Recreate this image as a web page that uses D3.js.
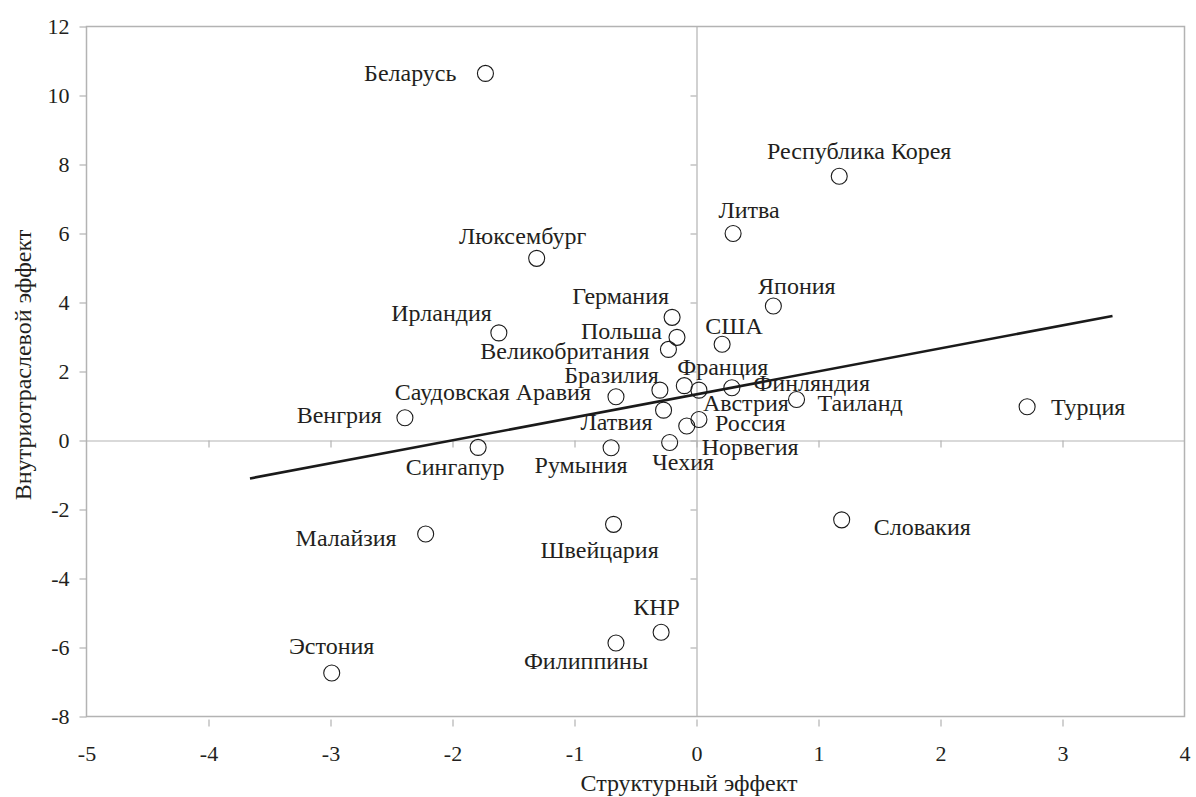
<!DOCTYPE html>
<html>
<head>
<meta charset="utf-8">
<script src="https://cdn.jsdelivr.net/npm/d3@7"></script>
<style>
  html, body { margin: 0; padding: 0; background: #fff; }
  svg { display: block; }
  text { font-family: "Liberation Serif", "Times New Roman", serif; fill: #231f20; }
</style>
</head>
<body>
<svg id="chart" width="1196" height="797"></svg>
<script>
// ---- data ----
const countries = ["Беларусь","Республика Корея","Литва","Люксембург","Япония","Германия","Ирландия","Польша","США","Великобритания","Франция","Бразилия","Финляндия","Саудовская Аравия","Таиланд","Турция","Австрия","Венгрия","Латвия","Россия","Норвегия","Сингапур","Румыния","Чехия","Словакия","Малайзия","Швейцария","КНР","Эстония","Филиппины"];
const structuralEffect = [-1.73, 1.17, 0.30, -1.31, 0.63, -0.20, -1.62, -0.16, 0.21, -0.23, -0.10, -0.30, 0.29, -0.66, 0.82, 2.71, 0.02, -2.39, -0.27, 0.02, -0.08, -1.79, -0.70, -0.22, 1.19, -2.22, -0.68, -0.29, -2.99, -0.66];
const intraEffect      = [10.64, 7.66, 6.00, 5.28, 3.90, 3.57, 3.12, 2.99, 2.79, 2.64, 1.59, 1.46, 1.53, 1.27, 1.19, 0.98, 1.46, 0.66, 0.88, 0.61, 0.42, -0.20, -0.21, -0.06, -2.30, -2.71, -2.43, -5.56, -6.74, -5.87];
const trendX = [-3.66, 3.41];
const trendY = [-1.10, 3.61];
const xTicks = [-5, -4, -3, -2, -1, 0, 1, 2, 3, 4];
const yTicks = [-8, -6, -4, -2, 0, 2, 4, 6, 8, 10, 12];
const xTitle = "Структурный эффект";
const yTitle = "Внутриотраслевой эффект";

// ---- label placement (layout only): [anchor, dx, dy] in px from the point ----
const labelPlacement = [
  ["end", -29, 0], ["middle", 20, -25], ["middle", 16, -24], ["middle", -14, -22],
  ["middle", 23.5, -20], ["end", -3, -21], ["end", -7, -20], ["end", -15, -6],
  ["middle", 12, -18], ["end", -19, 2], ["middle", 38.5, -18.5], ["end", -1, -15],
  ["start", 21.5, -4.5], ["end", -25, -5], ["start", 21, 3.5], ["start", 24, 0],
  ["start", 4, 13], ["end", -23, -3], ["end", -11, 12], ["start", 16, 4],
  ["start", 15, 21], ["middle", -23, 20], ["middle", -30, 17], ["middle", 13.5, 19],
  ["start", 32, 7], ["end", -29, 4], ["middle", -14, 26], ["middle", -4.5, -25.5],
  ["middle", 0, -27], ["middle", -30, 18]
];

const svg = d3.select("#chart");
const x = d3.scaleLinear().domain([xTicks[0], xTicks[xTicks.length - 1]]).range([86.5, 1184.5]);
const y = d3.scaleLinear().domain([yTicks[0], yTicks[yTicks.length - 1]]).range([716.5, 26.5]);
const gridCol = "#b3b3b3";
const fontFam = "'Liberation Serif', 'Times New Roman', serif";
const tickFs = 22;
const fs = 24;
const fmt = d => String(d); // hyphen-minus like the reference

// zero lines with ticks
const gx0 = svg.append("g").attr("transform", `translate(0,${y(0)})`)
  .call(d3.axisBottom(x).tickValues(xTicks.slice(1, -1)).tickSize(7).tickSizeOuter(0).tickFormat(""));
const gy0 = svg.append("g").attr("transform", `translate(${x(0)},0)`)
  .call(d3.axisLeft(y).tickValues(yTicks.slice(1, -1)).tickSize(6).tickSizeOuter(0).tickFormat(""));
[gx0, gy0].forEach(g => { g.selectAll("path,line").attr("stroke", gridCol).attr("stroke-width", 1.2); });

// frame
svg.append("rect")
  .attr("x", x(xTicks[0])).attr("y", y(yTicks[yTicks.length - 1]))
  .attr("width", x(xTicks[xTicks.length - 1]) - x(xTicks[0]))
  .attr("height", y(yTicks[0]) - y(yTicks[yTicks.length - 1]))
  .attr("fill", "none").attr("stroke", gridCol).attr("stroke-width", 1.5);

// y axis
const gy = svg.append("g").attr("transform", `translate(${x(xTicks[0])},0)`)
  .call(d3.axisLeft(y).tickValues(yTicks).tickFormat(fmt).tickSize(7).tickPadding(10).tickSizeOuter(0));
gy.attr("font-family", fontFam);
gy.select(".domain").remove();
gy.selectAll("line").attr("stroke", gridCol).attr("stroke-width", 1.2);
gy.selectAll("text").attr("font-size", tickFs).attr("font-family", fontFam).attr("fill", "#231f20");

// x axis (ticks below frame)
const gx = svg.append("g").attr("transform", `translate(0,${y(yTicks[0]) + 3})`)
  .call(d3.axisBottom(x).tickValues(xTicks).tickFormat(fmt).tickSize(7).tickPadding(19).tickSizeOuter(0));
gx.attr("font-family", fontFam);
gx.select(".domain").remove();
gx.selectAll("line").attr("stroke", gridCol).attr("stroke-width", 1.2);
gx.selectAll(".tick").filter(d => d === xTicks[0] || d === xTicks[xTicks.length - 1]).select("line").remove();
gx.selectAll("text").attr("font-size", tickFs).attr("font-family", fontFam).attr("fill", "#231f20");

// axis titles
svg.append("text").attr("x", 689).attr("y", 783).attr("text-anchor", "middle")
  .attr("dominant-baseline", "central").attr("font-family", fontFam).attr("font-size", fs).text(xTitle);
svg.append("text").attr("transform", "translate(23,365) rotate(-90)").attr("text-anchor", "middle")
  .attr("dominant-baseline", "central").attr("font-family", fontFam).attr("font-size", fs).text(yTitle);

// trend line
svg.append("path")
  .datum(trendX.map((v, i) => [v, trendY[i]]))
  .attr("d", d3.line().x(d => x(d[0])).y(d => y(d[1])))
  .attr("stroke", "#1a1a1a").attr("stroke-width", 2.6).attr("fill", "none");

// points
const data = countries.map((c, i) => ({ name: c, sx: structuralEffect[i], iy: intraEffect[i], lp: labelPlacement[i] }));
svg.append("g").selectAll("circle").data(data).join("circle")
  .attr("cx", d => x(d.sx)).attr("cy", d => y(d.iy)).attr("r", 8)
  .attr("fill", "#fff").attr("fill-opacity", 0).attr("stroke", "#1a1a1a").attr("stroke-width", 1.1);

// labels
svg.append("g").selectAll("text").data(data).join("text")
  .attr("x", d => x(d.sx) + d.lp[1]).attr("y", d => y(d.iy) + d.lp[2])
  .attr("text-anchor", d => d.lp[0]).attr("dominant-baseline", "central")
  .attr("font-family", fontFam).attr("font-size", fs).text(d => d.name);
</script>
</body>
</html>
